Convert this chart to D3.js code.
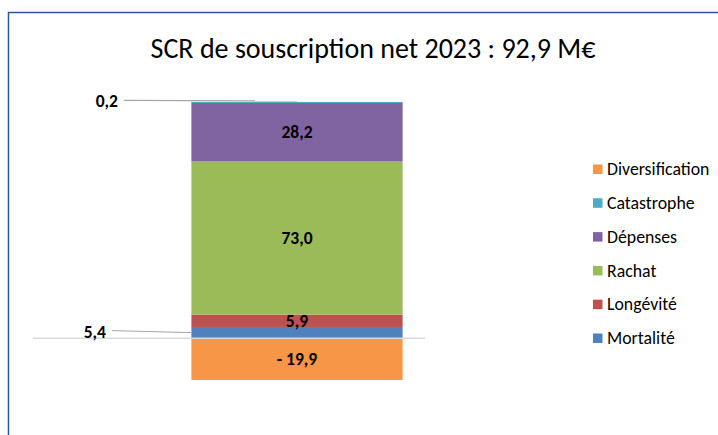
<!DOCTYPE html>
<html>
<head>
<meta charset="utf-8">
<script src="https://cdn.jsdelivr.net/npm/d3@7"></script>
<style>
  html, body { margin: 0; padding: 0; background: #fff; }
  svg { display: block; }
  text { font-family: Carlito, Calibri, Lato, "Liberation Sans", sans-serif; }
</style>
</head>
<body>
<svg id="chart" width="718" height="435"></svg>
<script>
const title = "SCR de souscription net 2023 : 92,9 M€";
const categories = ["Mortalité", "Longévité", "Rachat", "Dépenses", "Catastrophe", "Diversification"];
const values = [5.4, 5.9, 73.0, 28.2, 0.2, -19.9];
const labels = ["5,4", "5,9", "73,0", "28,2", "0,2", "- 19,9"];
const colors = ["#4F81BD", "#C0504D", "#9BBB59", "#8064A2", "#4BACC6", "#F79646"];
const legendOrder = ["Diversification", "Catastrophe", "Dépenses", "Rachat", "Longévité", "Mortalité"];
const yDomain = [-40, 120];

const svg = d3.select("#chart");

// chart border
svg.append("rect")
  .attr("x", 8.5).attr("y", 12.5)
  .attr("width", 760).attr("height", 460)
  .attr("fill", "#fff")
  .attr("stroke", "#2F5597").attr("stroke-width", 1.5);

// title
svg.append("text")
  .attr("x", 373).attr("y", 58)
  .attr("text-anchor", "middle")
  .attr("font-size", 28)
  .attr("fill", "#000")
  .text(title);

const plot = { left: 33, right: 561, axisRight: 425 };
const x = d3.scaleBand().domain(["2023"]).range([plot.left, plot.right]).paddingInner(0.6).paddingOuter(0.3);
const y = d3.scaleLinear().domain(yDomain).range([422.2, 86.6]);

// stack positive / negative
let pos = 0, neg = 0;
const segs = values.map((v, i) => {
  let y0, y1;
  if (v >= 0) { y0 = pos; y1 = pos + v; pos = y1; }
  else { y0 = neg + v; y1 = neg; neg = y0; }
  return { cat: categories[i], v, y0, y1, color: colors[i], label: labels[i] };
});

const bx = x("2023"), bw = x.bandwidth();

svg.append("g").selectAll("rect")
  .data(segs)
  .join("rect")
  .attr("x", bx)
  .attr("width", bw)
  .attr("y", d => y(d.y1))
  .attr("height", d => Math.max(1.2, y(d.y0) - y(d.y1)))
  .attr("fill", d => d.color);

// zero axis line
svg.append("line")
  .attr("x1", plot.left).attr("x2", plot.axisRight)
  .attr("y1", y(0)).attr("y2", y(0))
  .attr("stroke", "#D9D9D9").attr("stroke-width", 1.5);

// inside labels
const inside = segs.filter(d => Math.abs(d.v) >= 5.5);
svg.append("g").selectAll("text")
  .data(inside)
  .join("text")
  .attr("x", bx + bw / 2)
  .attr("y", d => (y(d.y0) + y(d.y1)) / 2)
  .attr("dy", "0.35em")
  .attr("text-anchor", "middle")
  .attr("font-size", 17.5)
  .attr("font-weight", "bold")
  .attr("fill", "#000")
  .text(d => d.label);

// outside labels with leader lines
const mort = segs[0], cat = segs[4];
const mortY = (y(mort.y0) + y(mort.y1)) / 2;
svg.append("line")
  .attr("x1", 112).attr("y1", mortY - 2)
  .attr("x2", bx).attr("y2", mortY)
  .attr("stroke", "#A6A6A6").attr("stroke-width", 1);
svg.append("text")
  .attr("x", 106).attr("y", mortY - 1)
  .attr("dy", "0.35em").attr("text-anchor", "end")
  .attr("font-size", 17.5).attr("font-weight", "bold")
  .text(mort.label);

const catY = y(cat.y1);
svg.append("line")
  .attr("x1", 124).attr("y1", catY - 1.5)
  .attr("x2", bx + bw / 2).attr("y2", catY - 1)
  .attr("stroke", "#A6A6A6").attr("stroke-width", 1.2);
svg.append("text")
  .attr("x", 118).attr("y", catY - 1.5)
  .attr("dy", "0.35em").attr("text-anchor", "end")
  .attr("font-size", 17.5).attr("font-weight", "bold")
  .text(cat.label);

// legend
const lg = svg.append("g").selectAll("g")
  .data(legendOrder)
  .join("g")
  .attr("transform", (d, i) => `translate(593, ${169 + i * 33.8})`);
lg.append("rect")
  .attr("x", 0).attr("y", -4.5).attr("width", 9.5).attr("height", 9.5)
  .attr("fill", d => colors[categories.indexOf(d)]);
lg.append("text")
  .attr("x", 14).attr("y", 0).attr("dy", "0.35em")
  .attr("font-size", 17.8)
  .attr("fill", "#000")
  .text(d => d);
</script>
</body>
</html>
